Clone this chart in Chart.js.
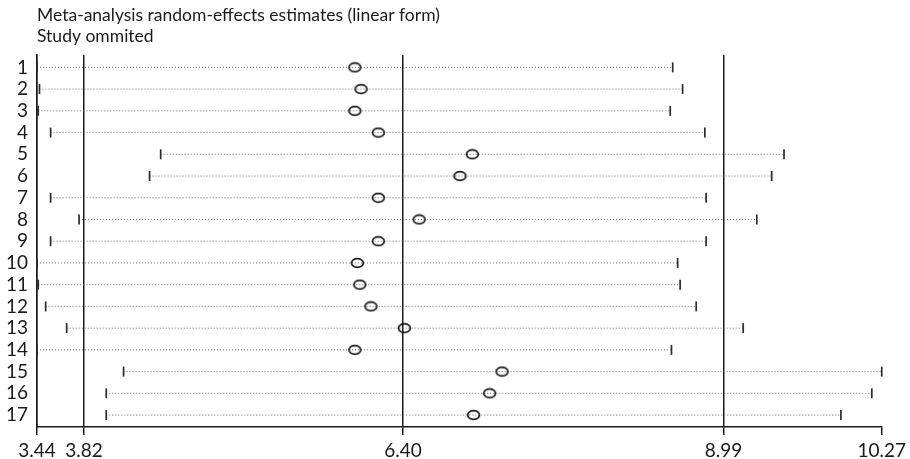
<!DOCTYPE html>
<html>
<head>
<meta charset="utf-8">
<script src="https://cdn.jsdelivr.net/npm/chart.js@4.4.1/dist/chart.umd.min.js"></script>
<style>
  html, body { margin: 0; padding: 0; background: #fff; }
  #wrap { width: 910px; height: 459px; }
</style>
</head>
<body>
<div id="wrap"><canvas id="forest"></canvas></div>
<script>
// Study omitted (leave-one-out) estimates with their lower and upper limits
var studies = ['1', '2', '3', '4', '5', '6', '7', '8', '9', '10', '11', '12', '13', '14', '15', '16', '17'];
var estimate = [6.01, 6.06, 6.01, 6.20, 6.96, 6.86, 6.20, 6.53, 6.20, 6.03, 6.05, 6.14, 6.41, 6.01, 7.20, 7.10, 6.97];
var lower = [3.44, 3.46, 3.45, 3.55, 4.44, 4.35, 3.55, 3.78, 3.55, 3.44, 3.45, 3.51, 3.68, 3.44, 4.14, 4.00, 4.00];
var upper = [8.58, 8.66, 8.56, 8.84, 9.48, 9.38, 8.85, 9.26, 8.85, 8.62, 8.64, 8.77, 9.15, 8.57, 10.27, 10.19, 9.94];

// Axis ticks: range limits plus the pooled lower limit, estimate and upper limit
var xTicks = [3.44, 3.82, 6.40, 8.99, 10.27];
var xMin = 3.44;
var xMax = 10.27;

var ink = '#1a1a1a';
var fontFamily = 'Lato, "Open Sans", sans-serif';

// hollow ellipse used as the marker for each estimate
function ellipseMarker() {
    var c = document.createElement('canvas');
    c.width = 15;
    c.height = 12;
    var g = c.getContext('2d');
    g.strokeStyle = ink;
    g.lineWidth = 1.7;
    g.beginPath();
    g.ellipse(7.5, 6, 5.9, 4.4, 0, 0, Math.PI * 2);
    g.stroke();
    return c;
}

var datasets = [];

// one dotted interval per omitted study, with short bars at both ends
studies.forEach(function (s, i) {
    datasets.push({
        type: 'line',
        data: [{ x: lower[i], y: i + 1 }, { x: upper[i], y: i + 1 }],
        borderColor: '#6f6f6f',
        borderWidth: 1,
        borderDash: [1, 2],
        pointStyle: 'line',
        rotation: 90,
        pointRadius: 5,
        pointBorderColor: '#2b2b2b',
        pointBorderWidth: 1.7,
        clip: false,
        order: 2
    });
});

datasets.push({
    type: 'scatter',
    data: estimate.map(function (v, i) { return { x: v, y: i + 1 }; }),
    pointStyle: ellipseMarker(),
    pointRadius: 6,
    backgroundColor: 'rgba(0,0,0,0)',
    borderColor: 'rgba(0,0,0,0)',
    clip: false,
    order: 1
});

new Chart(document.getElementById('forest'), {
    type: 'scatter',
    data: { datasets: datasets },
    options: {
        responsive: true,
        maintainAspectRatio: false,
        animation: false,
        layout: { padding: { left: 0, right: 27, top: 0, bottom: 0 } },
        plugins: {
            legend: { display: false },
            tooltip: { enabled: false },
            title: {
                display: true,
                fullSize: false,
                align: 'start',
                text: ['Meta-analysis random-effects estimates (linear form)', 'Study ommited'],
                color: ink,
                font: { family: fontFamily, size: 17.5, weight: 'normal', lineHeight: 1.2 },
                padding: { top: 5, bottom: 8 }
            }
        },
        scales: {
            x: {
                type: 'linear',
                min: xMin,
                max: xMax,
                afterBuildTicks: function (scale) {
                    scale.ticks = xTicks.map(function (v) { return { value: v }; });
                },
                afterFit: function (scale) { scale.height = 32; },
                ticks: {
                    autoSkip: false,
                    maxRotation: 0,
                    padding: 4,
                    color: ink,
                    font: { family: fontFamily, size: 19 },
                    callback: function (v) { return Number(v).toFixed(2); }
                },
                grid: {
                    color: function (ctx) {
                        return ctx.tick && ctx.tick.value === xMax ? 'rgba(0,0,0,0)' : ink;
                    },
                    tickColor: ink,
                    lineWidth: 1.5,
                    tickLength: 8
                },
                border: { display: true, color: ink, width: 1.5 }
            },
            y: {
                type: 'linear',
                reverse: true,
                min: 0.43,
                max: 17.55,
                afterBuildTicks: function (scale) {
                    scale.ticks = studies.map(function (s, i) { return { value: i + 1 }; });
                },
                afterFit: function (scale) { scale.width = 37; },
                ticks: {
                    autoSkip: false,
                    padding: 9,
                    color: ink,
                    font: { family: fontFamily, size: 19 },
                    callback: function (v) { return studies[v - 1]; }
                },
                grid: { display: false, drawTicks: false },
                border: { display: true, color: ink, width: 1.5 }
            }
        }
    }
});
</script>
</body>
</html>
